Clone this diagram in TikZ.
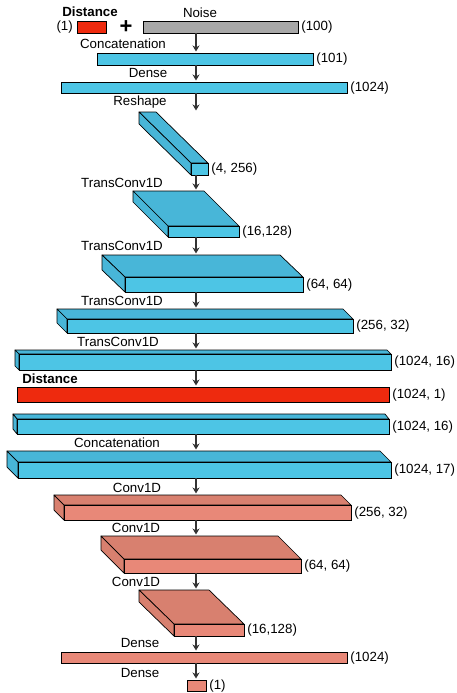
\documentclass[tikz,border=0pt]{standalone}
\usepackage{fontspec}
\setmainfont{Liberation Sans}
\usetikzlibrary{positioning, arrows.meta}
\definecolor{genfront}{rgb}{0.302,0.773,0.898}
\definecolor{gentop}{rgb}{0.282,0.714,0.847}
\definecolor{disfront}{rgb}{0.910,0.533,0.471}
\definecolor{distop}{rgb}{0.847,0.502,0.435}
\definecolor{distred}{rgb}{0.933,0.165,0.055}
\definecolor{noisegray}{rgb}{0.659,0.659,0.659}
\definecolor{arrowgray}{rgb}{0.2,0.2,0.2}
\def\axisx{196}

% slab: name, colour set, front top-left x/y, front width/height, back offset x/y, size text
\newcommand{\slab}[9]{%
  \draw[face, fill=#2top] (#3,#4) -- ++(#5,0) -- ++(-#7,-#8) -- ++(-#5,0) -- cycle;
  \draw[face, fill=#2top] (#3,#4) -- ++(0,#6) -- ++(-#7,-#8) -- ++(0,-#6) -- cycle;
  \node[box, fill=#2front, minimum width=#5pt, minimum height=#6pt] (#1) at (#3,#4) {};
  \node[dim, right=1.5pt of #1] (#1-dim) {#9};
  \coordinate (#1-in) at (\axisx,#4-#8);
  \coordinate (#1-out) at (\axisx,#4+#6);
}
% flat bar: name, colour, x, y, width, height, size text
\newcommand{\flatbar}[7]{%
  \node[box, fill=#2, minimum width=#5pt, minimum height=#6pt] (#1) at (#3,#4) {};
  \node[dim, right=1.5pt of #1] (#1-dim) {#7};
  \coordinate (#1-in) at (\axisx,#4);
  \coordinate (#1-out) at (\axisx,#4+#6);
}

\begin{document}
\begin{tikzpicture}[
  x=1pt, y=-1pt,
  box/.style={draw, line width=0.7pt, inner sep=0pt, anchor=north west},
  face/.style={draw, line width=0.7pt, line join=round},
  flow/.style={-{Stealth[length=6pt, width=7pt]}, draw=arrowgray, line width=1.1pt, shorten >=1.5pt},
  lbl/.style={font=\fontsize{13.3}{15}\selectfont, inner sep=0pt},
  head/.style={font=\fontsize{13.3}{15}\selectfont\bfseries, inner sep=0pt},
  dim/.style={lbl, inner sep=1pt},
]
\useasboundingbox (0,0) rectangle (456,693);

% generator inputs
\node[head] (distlbl) at (90,12) {Distance};
\node[box, fill=distred, minimum width=29pt, minimum height=12pt] (dist) at (77,21) {};
\node[dim, left=3pt of dist] (dist-dim) {(1)};
\node[font=\fontsize{22}{22}\selectfont\bfseries, inner sep=0pt] (plus) at (126,27) {+};
\node[lbl] (noiselbl) at (200,13) {Noise};
\flatbar{noise}{noisegray}{143}{21}{155}{12}{(100)}

% generator
\flatbar{cat1}{genfront}{97}{53}{216}{12}{(101)}
\flatbar{dense1}{genfront}{61}{82}{286}{11}{(1024)}
\slab{resh}{gen}{191}{163}{17}{12}{52}{51}{(4, 256)}
\slab{tc1}{gen}{168}{226}{71}{11}{35}{35}{(16,128)}
\slab{tc2}{gen}{125}{277}{178}{15}{23}{22}{(64, 64)}
\slab{tc3}{gen}{67}{319}{286}{14}{10}{10}{(256, 32)}
\slab{tc4}{gen}{19}{354}{372}{16}{4}{4}{(1024, 16)}

% discriminator
\flatbar{dmap}{distred}{17}{387}{372}{15}{(1024, 1)}
\slab{enc}{gen}{17}{419}{372}{15}{4}{5}{(1024, 16)}
\slab{cat2}{gen}{18}{462}{373}{16}{11}{11}{(1024, 17)}
\slab{cv1}{dis}{64}{505}{287}{15}{10}{10}{(256, 32)}
\slab{cv2}{dis}{124}{559}{177}{14}{23}{23}{(64, 64)}
\slab{cv3}{dis}{174}{624}{70}{12}{35}{34}{(16,128)}
\flatbar{fc1}{disfront}{61}{652}{286}{11}{(1024)}
\flatbar{fc2}{disfront}{187}{680}{19}{11}{(1)}

% layer names
\node[lbl] (l-cat1) at (123,44) {Concatenation};
\node[lbl] (l-dense1) at (148,73) {Dense};
\node[lbl] (l-resh) at (140,102) {Reshape};
\node[lbl] (l-tc1) at (122,183) {TransConv1D};
\node[lbl] (l-tc2) at (122,246) {TransConv1D};
\node[lbl] (l-tc3) at (122,301) {TransConv1D};
\node[lbl] (l-tc4) at (118,342) {TransConv1D};
\node[head] (l-dmap) at (50,379) {Distance};
\node[lbl] (l-cat2) at (117,443) {Concatenation};
\node[lbl] (l-cv1) at (137,488) {Conv1D};
\node[lbl] (l-cv2) at (136,528) {Conv1D};
\node[lbl] (l-cv3) at (136,582) {Conv1D};
\node[lbl] (l-fc1) at (140,643) {Dense};
\node[lbl] (l-fc2) at (140,673) {Dense};

% arrows
\draw[flow] (noise-out) -- (cat1-in);
\draw[flow] (cat1-out) -- (dense1-in);
\draw[flow] (dense1-out) -- (resh-in);
\draw[flow] (resh-out) -- (tc1-in);
\draw[flow] (tc1-out) -- (tc2-in);
\draw[flow] (tc2-out) -- (tc3-in);
\draw[flow] (tc3-out) -- (tc4-in);
\draw[flow] (tc4-out) -- (dmap-in);
\draw[flow] (enc-out) -- (cat2-in);
\draw[flow] (cat2-out) -- (cv1-in);
\draw[flow] (cv1-out) -- (cv2-in);
\draw[flow] (cv2-out) -- (cv3-in);
\draw[flow] (cv3-out) -- (fc1-in);
\draw[flow] (fc1-out) -- (fc2-in);
\end{tikzpicture}
\end{document}
